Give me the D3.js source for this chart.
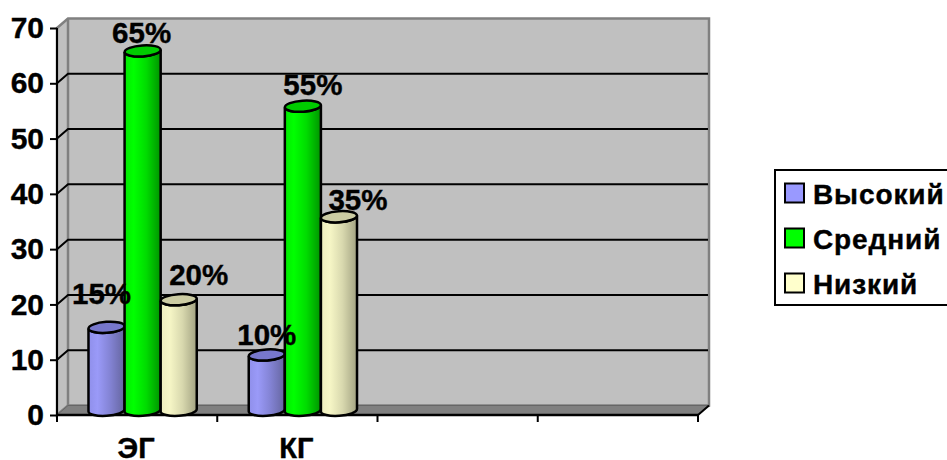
<!DOCTYPE html>
<html lang="ru">
<head>
    <meta charset="UTF-8">
    <title>Уровни: ЭГ и КГ</title>
    <style>
        html, body { margin: 0; padding: 0; background: #fff; overflow: hidden; }
        svg { display: block; }
        text { font-family: "Liberation Sans", Arial, sans-serif; font-weight: bold; fill: #000; stroke: #000; stroke-width: 0.4px; }
        .axis path { display: none; }
        .axis line { stroke: #000; stroke-width: 2; }
    </style>
</head>
<body>
<div id="chart"></div>

<script src="https://d3js.org/d3.v7.min.js"></script>
<script>
    const categories = ["ЭГ", "КГ", "", ""];
    const seriesNames = ["Высокий", "Средний", "Низкий"];
    const vysokiy = [15, 10];
    const sredniy = [65, 55];
    const nizkiy = [20, 35];
    const yTicks = [0, 10, 20, 30, 40, 50, 60, 70];

    const seriesValues = [vysokiy, sredniy, nizkiy];

    const width = 947;
    const height = 460;

    // depth of the fake 3D box
    const depthX = 11;
    const depthY = 9.5;

    const svg = d3.select("#chart").append("svg")
        .attr("width", width)
        .attr("height", height);

    const x0 = d3.scaleBand().domain(d3.range(categories.length)).range([57, 698]);
    const x1 = d3.scaleBand().domain(d3.range(seriesNames.length))
        .range([0, x0.bandwidth()]).paddingInner(0).paddingOuter(0.72);
    const y = d3.scaleLinear().domain([0, 70]).range([415, 28]);

    const fills = [
        { top: "#7777cc", swatch: "#9999ff", stops: [[0, "#8f8fea"], [0.25, "#9a9af8"], [0.6, "#8383d4"], [1, "#65659f"]] },
        { top: "#00cc00", swatch: "#00ff00", stops: [[0, "#00ea00"], [0.25, "#00ff00"], [0.6, "#00dc00"], [1, "#009400"]] },
        { top: "#cccca3", swatch: "#ffffcc", stops: [[0, "#eeeebf"], [0.25, "#f6f6c6"], [0.6, "#d8d8ae"], [1, "#a3a382"]] }
    ];

    const defs = svg.append("defs");
    fills.forEach((f, i) => {
        defs.append("linearGradient").attr("id", "cyl" + i)
            .selectAll("stop").data(f.stops).enter().append("stop")
            .attr("offset", d => d[0])
            .attr("stop-color", d => d[1]);
    });

    const [xLeft, xRight] = x0.range();
    const yBase = y(0);
    const yTop = y(70);

    // walls and floor
    svg.append("polygon")
        .attr("points", [[xLeft, yTop], [xLeft + depthX, yTop - depthY], [xRight + depthX, yTop - depthY],
            [xRight + depthX, yBase - depthY], [xLeft + depthX, yBase - depthY], [xLeft, yBase]].join(" "))
        .attr("fill", "#c0c0c0")
        .attr("stroke", "#808080")
        .attr("stroke-width", 2.5);
    svg.append("line")
        .attr("x1", xLeft + depthX).attr("y1", yTop - depthY)
        .attr("x2", xLeft + depthX).attr("y2", yBase - depthY)
        .attr("stroke", "#808080").attr("stroke-width", 2.5);
    svg.append("polygon")
        .attr("points", [[xLeft, yBase], [xLeft + depthX, yBase - depthY], [xRight + depthX, yBase - depthY], [xRight, yBase]].join(" "))
        .attr("fill", "#808080")
        .attr("stroke", "#666");

    // gridlines run along the back wall, with a diagonal across the side wall
    const grid = svg.append("g").attr("stroke", "#000").attr("stroke-width", 2);
    yTicks.filter(t => t > 0 && t < 70).forEach(t => {
        grid.append("polyline")
            .attr("fill", "none")
            .attr("points", [[xLeft, y(t)], [xLeft + depthX, y(t) - depthY], [xRight + depthX - 1, y(t) - depthY]].join(" "));
    });

    // axes
    svg.append("g").attr("class", "axis")
        .attr("transform", `translate(${xLeft},0)`)
        .call(d3.axisLeft(y).tickValues(yTicks).tickSize(7).tickPadding(6))
        .call(g => g.selectAll("text").attr("font-size", 30).attr("font-family", null));

    svg.append("line").attr("x1", xLeft).attr("y1", yTop).attr("x2", xLeft).attr("y2", yBase + 7)
        .attr("stroke", "#000").attr("stroke-width", 2);
    svg.append("line").attr("x1", xLeft).attr("y1", yBase).attr("x2", xRight).attr("y2", yBase)
        .attr("stroke", "#000").attr("stroke-width", 2.5);
    svg.append("line").attr("x1", xRight).attr("y1", yBase).attr("x2", xRight + depthX).attr("y2", yBase - depthY)
        .attr("stroke", "#000").attr("stroke-width", 2);
    d3.range(categories.length + 1).forEach(i => {
        const tx = xLeft + x0.step() * i;
        svg.append("line").attr("x1", tx).attr("y1", yBase).attr("x2", tx).attr("y2", yBase + 7)
            .attr("stroke", "#000").attr("stroke-width", 2);
    });

    svg.append("g").selectAll("text")
        .data(categories)
        .enter().append("text")
        .attr("x", (d, i) => x0(i) + x0.bandwidth() / 2 - 1)
        .attr("y", 458)
        .attr("text-anchor", "middle")
        .attr("font-size", 29)
        .text(d => d);

    // cylinders, in series order so each one sits over its left neighbour
    const rx = x1.bandwidth() / 2;
    const ry = 5.5;
    const tilt = 1.2;

    function bodyPath(cx, yt, yb) {
        return `M${cx - rx},${yt + tilt} L${cx - rx},${yb + tilt}` +
            ` A${rx},${ry} -4 0 0 ${cx + rx},${yb - tilt}` +
            ` L${cx + rx},${yt - tilt}` +
            ` A${rx},${ry} -4 0 1 ${cx - rx},${yt + tilt} Z`;
    }

    categories.forEach((cat, c) => {
        seriesNames.forEach((name, s) => {
            const v = seriesValues[s][c];
            if (v === undefined) return;
            const cx = x0(c) + x1(s) + rx + depthX / 2;
            const yt = y(v) - depthY / 2;
            const yb = yBase - depthY / 2;
            svg.append("path")
                .attr("d", bodyPath(cx, yt, yb))
                .attr("fill", `url(#cyl${s})`)
                .attr("stroke", "#000")
                .attr("stroke-width", 2.5);
            svg.append("ellipse")
                .attr("cx", cx).attr("cy", yt)
                .attr("rx", rx).attr("ry", ry)
                .attr("transform", `rotate(-4 ${cx} ${yt})`)
                .attr("fill", fills[s].top)
                .attr("stroke", "#000")
                .attr("stroke-width", 2.5);
        });
    });

    // value labels were hand-placed in the original layout, so each gets its own nudge
    const labelNudge = [
        [[-5, -28], [0, -15]],
        [[-1, -13], [10, -16]],
        [[20, -19], [19, -12]]
    ];
    categories.forEach((cat, c) => {
        seriesNames.forEach((name, s) => {
            const v = seriesValues[s][c];
            if (v === undefined) return;
            const n = labelNudge[s][c];
            svg.append("text")
                .attr("x", x0(c) + x1(s) + rx + depthX / 2 + n[0])
                .attr("y", y(v) + n[1])
                .attr("text-anchor", "middle")
                .attr("font-size", 29.5)
                .text(v + "%");
        });
    });

    // legend, its right edge runs off the page
    const legend = svg.append("g");
    legend.append("rect")
        .attr("x", 775).attr("y", 170)
        .attr("width", 190).attr("height", 135)
        .attr("fill", "#fff")
        .attr("stroke", "#000")
        .attr("stroke-width", 2);

    const legendY = d3.scalePoint().domain(seriesNames).range([193, 283]);
    seriesNames.forEach((name, s) => {
        legend.append("rect")
            .attr("x", 785).attr("y", legendY(name) - 9.5)
            .attr("width", 19).attr("height", 19)
            .attr("fill", fills[s].swatch)
            .attr("stroke", "#000")
            .attr("stroke-width", 2);
        legend.append("text")
            .attr("x", 813).attr("y", legendY(name) + 11)
            .attr("font-size", 28)
            .attr("letter-spacing", 0.9)
            .text(name);
    });
</script>

</body>
</html>
